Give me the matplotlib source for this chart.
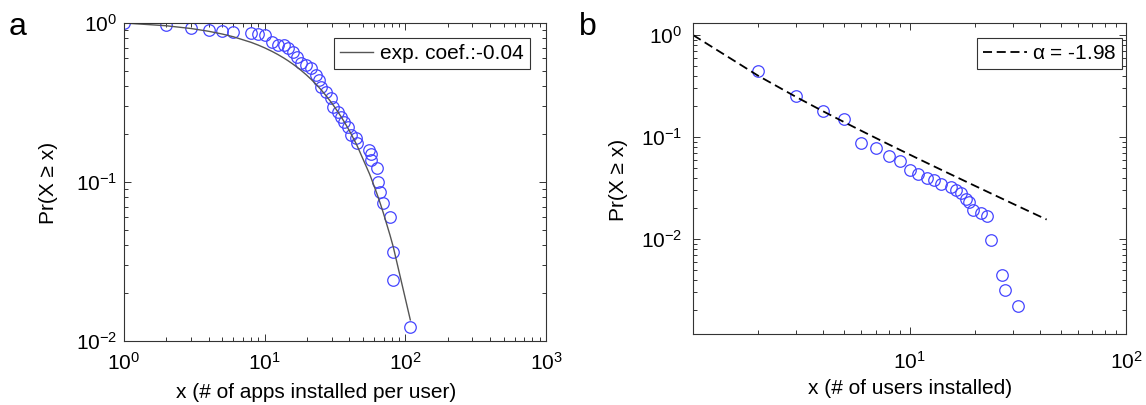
import numpy as np
import matplotlib
matplotlib.use('Agg')
import matplotlib.pyplot as plt
from matplotlib.ticker import LogLocator, FuncFormatter, NullFormatter, FixedLocator

# ---------------- data ----------------
# panel a: CCDF of # of apps installed per user
apps_x = [1, 2, 3, 4, 5, 6, 8, 9, 10, 11.3, 12.4, 13.7, 14.6, 15.9, 17, 18.2,
          19.8, 21.4, 23, 24.5, 25.2, 27.4, 29.7, 30.5, 33, 35, 36.9, 39, 41,
          44.7, 45.4, 55.6, 57.1, 57.1, 62.6, 63.6, 66.1, 69.8, 77.8, 81.2,
          82.2, 108.5]
apps_p = [1.0, 0.97, 0.926, 0.90, 0.89, 0.88, 0.87, 0.85, 0.84, 0.756, 0.727,
          0.727, 0.693, 0.66, 0.61, 0.557, 0.545, 0.52, 0.47, 0.438, 0.397,
          0.37, 0.336, 0.297, 0.277, 0.257, 0.24, 0.222, 0.197, 0.188, 0.175,
          0.16, 0.151, 0.137, 0.122, 0.10, 0.087, 0.0735, 0.0606, 0.0365,
          0.0241, 0.0122]
exp_coef = -0.04
exp_label = 'exp. coef.:-0.04'

# panel b: CCDF of # of users installed
users_x = [2, 3, 4, 5, 6, 7, 8, 9, 10, 11, 12, 13, 14, 15.6, 16.4, 17.3, 18.2,
           18.9, 19.7, 21.5, 22.8, 23.8, 26.8, 27.7, 31.8]
users_p = [0.447, 0.252, 0.181, 0.149, 0.088, 0.078, 0.065, 0.058, 0.0476,
           0.0434, 0.040, 0.0377, 0.035, 0.0322, 0.0306, 0.028, 0.025, 0.0232,
           0.0193, 0.0182, 0.0169, 0.0099, 0.0044, 0.0032, 0.0022]
alpha = -1.98
alpha_label = r'$\alpha$ = -1.98'
fit_xmin, fit_xmax = 1, 43

# ---------------- model curves from the stated parameters ----------------
ax_fit = np.array(apps_x, dtype=float)
ap_fit = np.exp(exp_coef * (ax_fit - ax_fit[0]))

def hurwitz_zeta(s, q, M=200000):
    k = np.arange(q, M, dtype=float)
    return np.sum(k ** (-s)) + M ** (1 - s) / (s - 1) + 0.5 * M ** (-s)

a = -alpha
bx_fit = np.arange(fit_xmin, fit_xmax + 1)
z1 = hurwitz_zeta(a, fit_xmin)
bp_fit = np.array([hurwitz_zeta(a, int(v)) / z1 for v in bx_fit])

# ---------------- styling ----------------
plt.rcParams['font.family'] = ['Liberation Sans', 'DejaVu Sans']
plt.rcParams['mathtext.default'] = 'regular'
FS = 15
W, H = 1146, 405

fig = plt.figure(figsize=(W / 100, H / 100), dpi=100)

def px_axes(l, r, t, b):
    return fig.add_axes([l / W, 1 - b / H, (r - l) / W, (b - t) / H])

axA = px_axes(124, 546, 23, 341)
axB = px_axes(693, 1126, 23, 334)

def logfmt(v, pos):
    e = int(round(np.log10(v)))
    return r'$10^{%d}$' % e

marker_kw = dict(linestyle='none', marker='o', markersize=8.3,
                 markerfacecolor='none', markeredgecolor='#4545ff',
                 markeredgewidth=0.9)

# panel a
axA.plot(apps_x, apps_p, **marker_kw)
axA.plot(ax_fit, ap_fit, color='#555555', lw=1.0, label=exp_label)
axA.set_xscale('log')
axA.set_yscale('log')
axA.set_xlim(1, 1000)
axA.set_ylim(0.01, 1)

# panel b
axB.plot(users_x, users_p, **marker_kw)
axB.plot(bx_fit, bp_fit, color='black', lw=1.3, dashes=(5.0, 2.6),
         label=alpha_label)
axB.set_xscale('log')
axB.set_yscale('log')
axB.set_xlim(1.0, 100)
axB.set_ylim(10 ** -2.93, 10 ** 0.118)

for ax, xt, yt, xpad, ypad in [
        (axA, [1, 10, 100, 1000], [0.01, 0.1, 1], 7.5, 5),
        (axB, [10, 100], [0.01, 0.1, 1], 12.5, 8)]:
    ax.xaxis.set_major_locator(FixedLocator(xt))
    ax.yaxis.set_major_locator(FixedLocator(yt))
    ax.xaxis.set_minor_locator(LogLocator(base=10, subs=np.arange(2, 10), numticks=20))
    ax.yaxis.set_minor_locator(LogLocator(base=10, subs=np.arange(2, 10), numticks=20))
    ax.xaxis.set_major_formatter(FuncFormatter(logfmt))
    ax.yaxis.set_major_formatter(FuncFormatter(logfmt))
    ax.xaxis.set_minor_formatter(NullFormatter())
    ax.yaxis.set_minor_formatter(NullFormatter())
    ax.tick_params(which='both', direction='in', top=True, right=True,
                   width=0.7, color='#333333', labelsize=FS)
    ax.tick_params(which='major', length=5)
    ax.tick_params(which='minor', length=3)
    ax.tick_params(axis='x', pad=xpad)
    ax.tick_params(axis='y', pad=ypad)
    for s in ax.spines.values():
        s.set_linewidth(0.8)
        s.set_color('#333333')

legA = axA.legend(loc='upper right', bbox_to_anchor=((530 - 124) / 422, (341 - 38) / 318),
                  borderaxespad=0, fontsize=FS, handlelength=1.6,
                  handletextpad=0.35, borderpad=0.28, fancybox=False,
                  framealpha=1, edgecolor='#333333')
legA.get_frame().set_linewidth(0.8)
legB = axB.legend(loc='upper right', bbox_to_anchor=((1122 - 693) / 433, (334 - 38) / 311),
                  borderaxespad=0, fontsize=FS, handlelength=2.15,
                  handletextpad=0.2, borderpad=0.28, fancybox=False,
                  framealpha=1, edgecolor='#333333')
legB.get_frame().set_linewidth(0.8)

# axis labels
fig.text(316 / W, 1 - 393 / H, 'x (# of apps installed per user)', fontsize=FS,
         ha='center', va='center')
fig.text(910 / W, 1 - 388 / H, 'x (# of users installed)', fontsize=FS,
         ha='center', va='center')
fig.text(48 / W, 1 - 183 / H, 'Pr(X \u2265 x)', fontsize=FS, rotation=90,
         ha='center', va='center')
fig.text(619 / W, 1 - 180 / H, 'Pr(X \u2265 x)', fontsize=FS, rotation=90,
         ha='center', va='center')

# panel letters
fig.text(9 / W, 1 - 35 / H, 'a', fontsize=23, ha='left', va='baseline')
fig.text(579 / W, 1 - 35 / H, 'b', fontsize=23, ha='left', va='baseline')

fig.savefig('out.png', dpi=100)
